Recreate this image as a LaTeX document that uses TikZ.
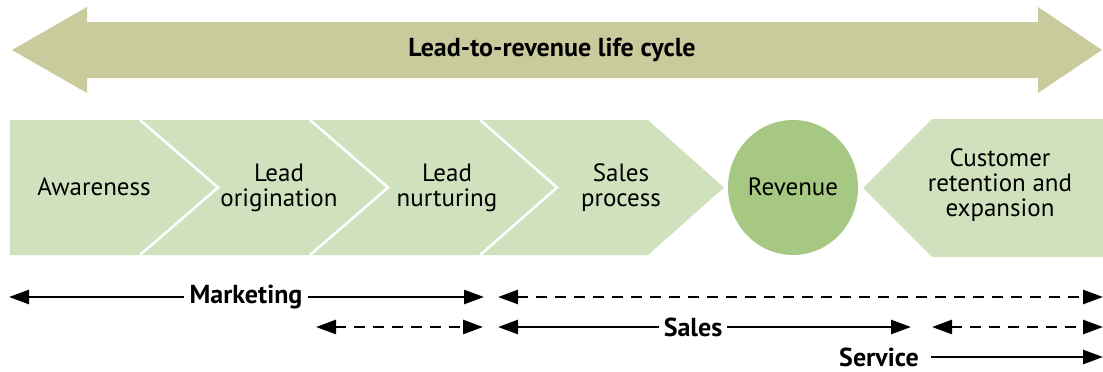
\documentclass[tikz,border=0pt]{standalone}
\usepackage{fontspec}
\setmainfont{PT Sans}
\usetikzlibrary{arrows.meta}
\definecolor{bandcol}{HTML}{C9CB9C}
\definecolor{stagecol}{HTML}{D0E1BE}
\definecolor{revcol}{HTML}{A6C883}
\tikzset{
  stagetext/.style={align=center, font=\fontsize{25}{25}\selectfont, inner sep=0pt},
  boldlabel/.style={font=\fontsize{26}{26}\selectfont\bfseries, fill=white, inner xsep=6pt, inner ysep=0pt},
  span/.style={line width=2.7pt, {Triangle[length=20pt,width=14pt]}-{Triangle[length=20pt,width=14pt]}},
  onespan/.style={line width=2.7pt, -{Triangle[length=20pt,width=14pt]}},
  dashspan/.style={span, dash pattern=on 11pt off 8pt},
  divider/.style={white, line width=2.5pt},
}
\begin{document}
\begin{tikzpicture}[x=1pt, y=-1pt]
\useasboundingbox (0,0) rectangle (1103,372);

% overall life-cycle band
\fill[bandcol] (12,50) -- (87,7) -- (87,22) -- (1038,22) -- (1038,7) -- (1102,50)
  -- (1038,93) -- (1038,78) -- (87,78) -- (87,93) -- cycle;
\node[font=\fontsize{26}{26}\selectfont\bfseries] (cycle) at (552,50) {Lead-to-revenue life cycle};

% stage chevrons
\fill[stagecol] (10,120) -- (140,120) -- (218,187.5) -- (140,255) -- (10,255) -- cycle;
\fill[stagecol] (140,120) -- (310,120) -- (388,187.5) -- (310,255) -- (140,255) -- (218,187.5) -- cycle;
\fill[stagecol] (310,120) -- (480,120) -- (557,187.5) -- (480,255) -- (310,255) -- (388,187.5) -- cycle;
\fill[stagecol] (480,120) -- (648,120) -- (724,187.5) -- (648,255) -- (480,255) -- (557,187.5) -- cycle;
\draw[divider] (140,120) -- (218,187.5) -- (140,255);
\draw[divider] (310,120) -- (388,187.5) -- (310,255);
\draw[divider] (480,120) -- (557,187.5) -- (480,255);

% revenue and retention
\fill[revcol] (793,187.5) circle[x radius=65, y radius=67.5];
\fill[stagecol] (863,188) -- (932,119) -- (1103,119) -- (1103,257) -- (932,257) -- cycle;

\node[stagetext] (aware) at (94,187) {Awareness};
\node[stagetext] (orig) at (279,188) {Lead\\origination};
\node[stagetext] (nurt) at (447,188) {Lead\\nurturing};
\node[stagetext] (salesp) at (621,188) {Sales\\process};
\node[stagetext] (rev) at (793,187) {Revenue};
\node[stagetext] (cust) at (1000,185) {Customer\\retention and\\expansion};

% responsibility spans
\coordinate (m1) at (9,297);   \coordinate (m2) at (484,297);
\coordinate (d1) at (498,297); \coordinate (d2) at (1103,297);
\coordinate (n1) at (316,327); \coordinate (n2) at (483,327);
\coordinate (s1) at (498,327); \coordinate (s2) at (911,327);
\coordinate (r1) at (932,327); \coordinate (r2) at (1103,327);
\coordinate (v1) at (931,357); \coordinate (v2) at (1103,357);

\draw[span] (m1) -- (m2);
\node[boldlabel] (mkt) at (246,297) {Marketing};
\draw[dashspan] (d1) -- (d2);
\draw[dashspan] (n1) -- (n2);
\draw[span] (s1) -- (s2);
\node[boldlabel, inner xsep=5pt] (sales) at (693,327) {Sales};
\draw[dashspan] (r1) -- (r2);
\node[boldlabel, fill=none] (serv) at (879,357) {Service};
\draw[onespan] (v1) -- (v2);
\end{tikzpicture}
\end{document}
